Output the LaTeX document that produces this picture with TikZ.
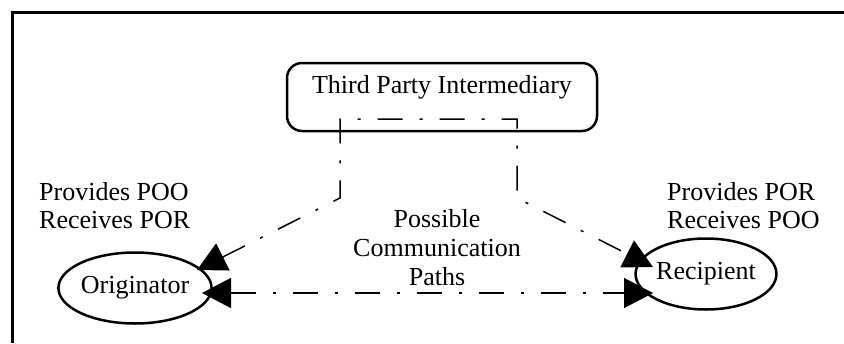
\documentclass[tikz,border=0pt]{standalone}
\usepackage{fontspec}
\setmainfont{Liberation Serif}
\usetikzlibrary{shapes.geometric,arrows.meta}
\tikzset{bigtip/.tip={Triangle[length=29pt,width=30pt]}}
\begin{document}
\begin{tikzpicture}[x=1pt,y=-1pt,
  txt/.style={font=\fontsize{26}{28}\selectfont, inner sep=0pt},
  oval/.style={ellipse, draw, line width=2.5pt, minimum width=134pt, minimum height=71pt, inner sep=0pt, font=\fontsize{26}{28}\selectfont},
  tpbox/.style={draw, line width=2.5pt, rounded corners=15pt, minimum width=310pt, minimum height=68pt, inner xsep=0pt, inner ysep=12pt, text height=18pt, text depth=26pt, font=\fontsize{26}{28}\selectfont},
  conn/.style={line width=1.5pt, dash pattern=on 25pt off 17pt on 3pt off 17pt},
  frame/.style={line width=3pt}]
\useasboundingbox (0,0) rectangle (844,343);
% frame
\coordinate (fbl) at (12,343);
\coordinate (ftl) at (12,12);
\coordinate (ftr) at (844,12);
\draw[frame] (fbl) -- (ftl) -- (ftr);
% nodes
\node[tpbox] (tpi) at (442,97) {Third Party Intermediary};
\node[oval] (orig) at (135,288) {Originator};
\node[oval] (recip) at (706,274) {Recipient};
\node[txt, align=left, anchor=base west] (otext) at (39,228) {Provides POO\\Receives POR};
\node[txt, align=left, anchor=base west] (rtext) at (667,228) {Provides POR\\Receives POO};
\node[txt, align=center, anchor=base, font=\fontsize{26}{29}\selectfont] (paths) at (437,285) {Possible\\Communication\\Paths};
% connector points
\coordinate (o1) at (197,270);
\coordinate (o2) at (202,293);
\coordinate (r1) at (653,267);
\coordinate (r2) at (653,293);
\coordinate (lb) at (340,198);
\coordinate (lt) at (340,119);
\coordinate (rt) at (517,119);
\coordinate (rb) at (517,198);
% connectors
\draw[conn, bigtip-bigtip] (o1) -- (lb) -- (lt) -- (rt) -- (rb) -- (r1);
\draw[conn, bigtip-bigtip] (o2) -- (r2);
\end{tikzpicture}
\end{document}
